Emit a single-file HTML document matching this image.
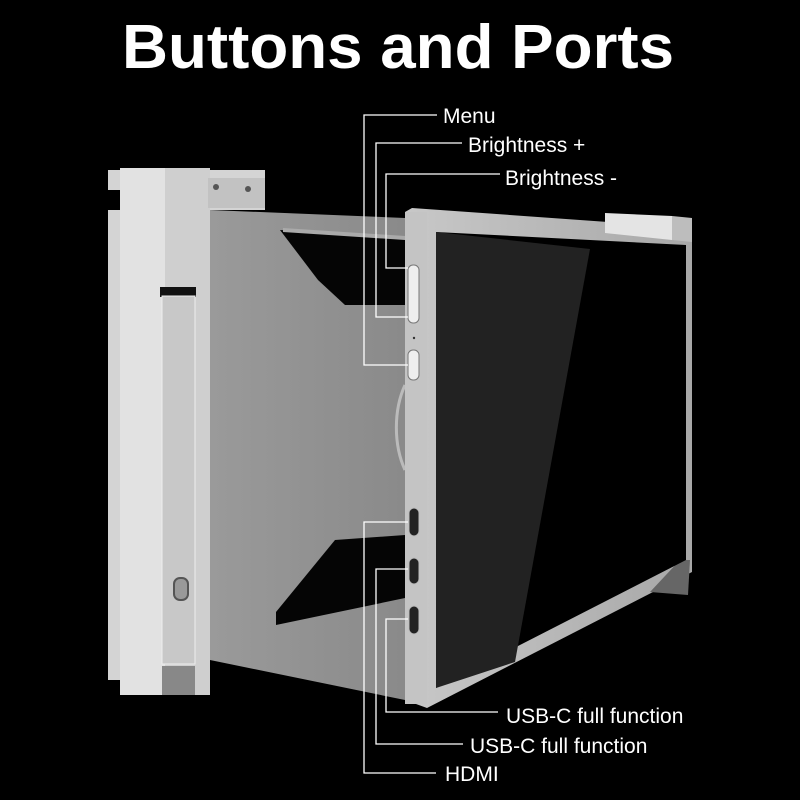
<!DOCTYPE html>
<html><head><style>
html,body{margin:0;padding:0;background:#000;width:800px;height:800px;overflow:hidden}
svg{display:block}
text{font-family:"Liberation Sans",sans-serif;fill:#fff}
</style></head><body>
<svg width="800" height="800" viewBox="0 0 800 800">
<defs>
<linearGradient id="g1" x1="0" x2="1"><stop offset="0" stop-color="#9a9a9a"/><stop offset="1" stop-color="#8a8a8a"/></linearGradient>
<linearGradient id="fr" x1="0" x2="1"><stop offset="0" stop-color="#c8c8c8"/><stop offset="1" stop-color="#a8a8a8"/></linearGradient>
</defs>
<rect width="800" height="800" fill="#000"/>
<text x="398" y="68" font-size="62" font-weight="bold" text-anchor="middle" textLength="552" lengthAdjust="spacingAndGlyphs">Buttons and Ports</text>

<!-- arm gray panel -->
<polygon points="210,210 405,218 405,700 210,660" fill="url(#g1)"/>
<polygon points="280,230 405,238 405,305 345,305 318,280" fill="#050505"/>
<polygon points="276,612 335,540 405,535 405,598 276,625" fill="#050505"/>
<polygon points="283,228 405,236 405,240 283,232" fill="#aaa"/>
<path d="M405,385 A42,70 0 0 0 405,470" fill="none" stroke="#bbb" stroke-width="3"/>

<!-- left bracket -->
<polygon points="108,170 265,170 265,210 210,210 210,660 210,695 120,695 120,680 108,680 108,210 120,210 120,190 108,190" fill="#d4d4d4"/>
<rect x="120" y="168" width="45" height="527" fill="#e2e2e2"/>
<rect x="165" y="168" width="45" height="527" fill="#cfcfcf"/>
<rect x="208" y="178" width="57" height="30" fill="#c2c2c2"/>
<circle cx="216" cy="187" r="3" fill="#555"/><circle cx="248" cy="189" r="3" fill="#555"/>
<rect x="160" y="287" width="36" height="10" fill="#111"/>
<rect x="162" y="296" width="33" height="368" fill="#c8c8c8" stroke="#eee" stroke-width="1"/>
<rect x="162" y="666" width="33" height="29" fill="#888"/>
<rect x="174" y="578" width="14" height="22" rx="6" fill="#999" stroke="#555" stroke-width="2"/>

<!-- monitor frame -->
<polygon points="405,212 412,208 692,228 692,572 427,708 405,700" fill="url(#fr)"/>
<rect x="405" y="212" width="22" height="492" fill="#c4c4c4"/>
<polygon points="605,213 672,216 672,240 605,233" fill="#e4e4e4"/>
<polygon points="672,216 692,218 692,242 672,240" fill="#bdbdbd"/>
<polygon points="680,560 690,560 688,595 650,592" fill="#666"/>
<polygon points="436,232 686,245 686,560 436,688" fill="#000"/>
<polygon points="436,232 590,249 515,662 436,688" fill="#222"/>
<rect x="408" y="265" width="11" height="58" rx="5" fill="#eee" stroke="#777"/>
<rect x="408" y="350" width="11" height="30" rx="5" fill="#eee" stroke="#777"/>
<circle cx="414" cy="338" r="1.2" fill="#333"/>
<rect x="409" y="508" width="10" height="28" rx="5" fill="#222" stroke="#bbb"/>
<rect x="409" y="558" width="10" height="26" rx="5" fill="#222" stroke="#bbb"/>
<rect x="409" y="606" width="10" height="28" rx="5" fill="#222" stroke="#bbb"/>

<g fill="none" stroke="#fff" stroke-width="1.3">
<polyline points="437,115 364,115 364,365 408,365"/>
<polyline points="462,143 376,143 376,317 408,317"/>
<polyline points="500,174 386,174 386,268 408,268"/>
<polyline points="436,773 364,773 364,522 408,522"/>
<polyline points="463,744 376,744 376,569 408,569"/>
<polyline points="498,712 386,712 386,619 408,619"/>
</g>
<g font-size="21">
<text x="443" y="123">Menu</text>
<text x="468" y="152">Brightness +</text>
<text x="505" y="185">Brightness -</text>
<text x="506" y="723">USB-C full function</text>
<text x="470" y="753">USB-C full function</text>
<text x="445" y="781">HDMI</text>
</g>
</svg>
</body></html>
